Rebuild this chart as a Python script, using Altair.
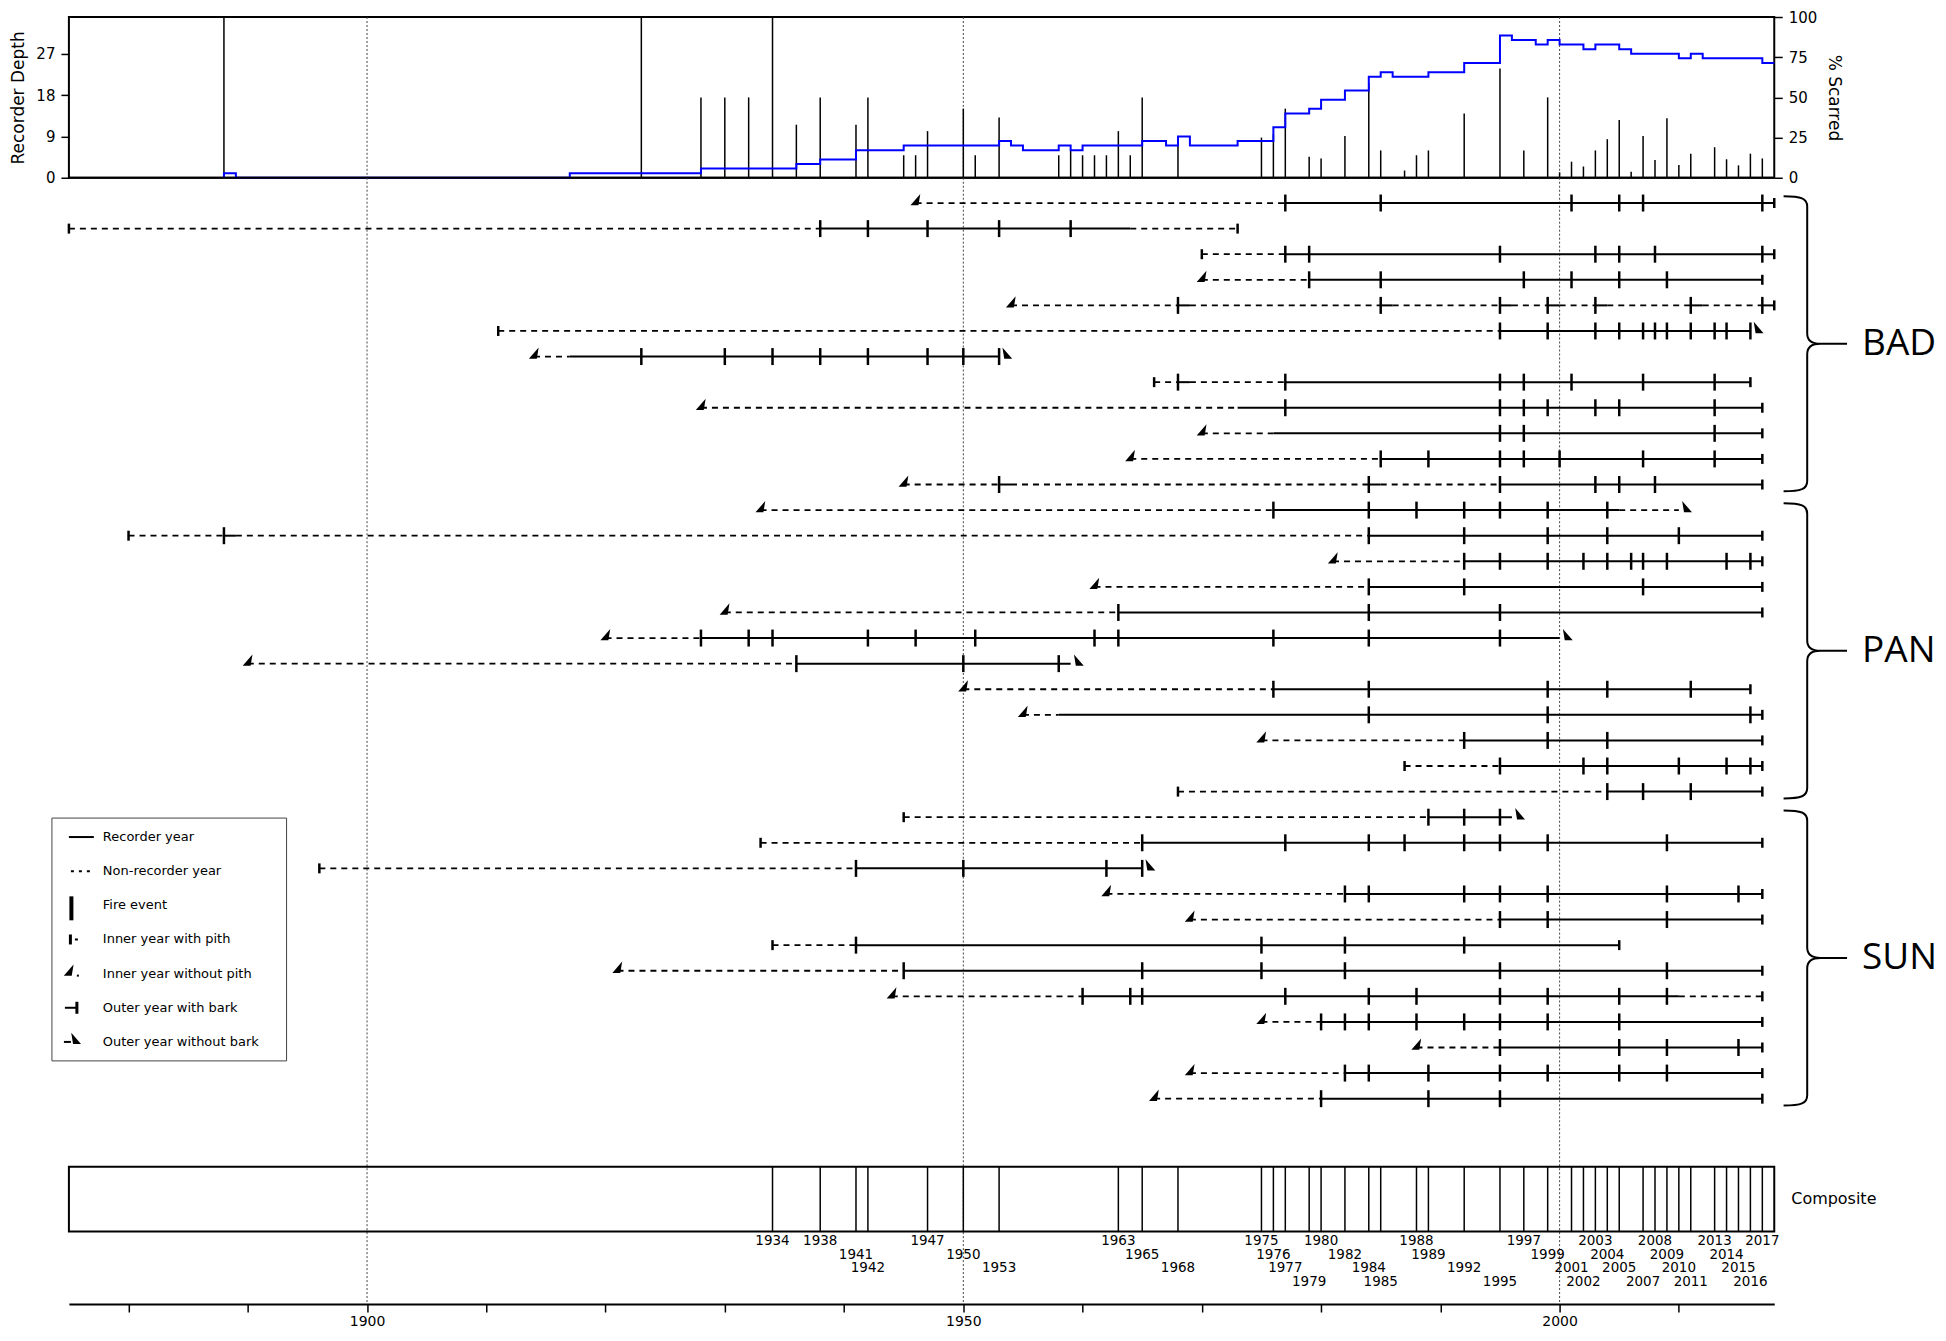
import altair as alt
import pandas as pd

# ---------------- data ----------------
YEAR_MIN, YEAR_MAX = 1875, 2018
grid_years = [1900, 1950, 2000]
axis_tick_years = list(range(1880, 2011, 10))

# recorder depth (step line, left axis)
depth_years = [1888, 1888, 1889, 1917, 1928, 1936, 1938, 1941, 1945, 1953, 1954, 1955, 1958, 1959, 1960,
               1965, 1967, 1968, 1969, 1973, 1976, 1977, 1979, 1980, 1982, 1984, 1985, 1986, 1989, 1992,
               1995, 1996, 1998, 1999, 2000, 2002, 2003, 2005, 2006, 2010, 2011, 2012, 2017, 2018]
depth_values = [0, 1, 0, 1, 2, 3, 4, 6, 7, 8, 7, 6, 7, 6, 7,
                8, 7, 9, 7, 8, 11, 14, 15, 17, 19, 22, 23, 22, 23, 25,
                31, 30, 29, 30, 29, 28, 29, 28, 27, 26, 27, 26, 25, 25]

# percent scarred (bars, right axis)
scar_years = [1888, 1923, 1928, 1930, 1932, 1934, 1936, 1938, 1941, 1942, 1945, 1946, 1947, 1950, 1951,
              1953, 1958, 1959, 1960, 1961, 1962, 1963, 1964, 1965, 1968, 1975, 1976, 1977, 1979, 1980,
              1982, 1984, 1985, 1987, 1988, 1989, 1992, 1995, 1997, 1999, 2000, 2001, 2002, 2003, 2004,
              2005, 2006, 2007, 2008, 2009, 2010, 2011, 2013, 2014, 2015, 2016, 2017]
scar_pct = [100, 100, 50, 50, 50, 100, 33, 50, 33, 50, 14, 14, 29, 43, 14,
            37.5, 14, 17, 14, 14, 14, 29, 14, 50, 22, 25, 27, 43, 13, 12,
            26, 59, 17, 4.5, 14, 17, 40, 68, 17, 50, 3.4, 10, 7, 17, 24,
            36, 3.7, 26, 11, 37, 8, 15, 19, 11.5, 7.7, 15, 12]

composite_years = [1934, 1938, 1941, 1942, 1947, 1950, 1953, 1963, 1965, 1968, 1975, 1976, 1977, 1979,
                   1980, 1982, 1984, 1985, 1988, 1989, 1992, 1995, 1997, 1999, 2001, 2002, 2003, 2004,
                   2005, 2007, 2008, 2009, 2010, 2011, 2013, 2014, 2015, 2016, 2017]

sites = ["BAD", "PAN", "SUN"]
site_first_row = [0, 12, 24]
site_last_row = [11, 23, 35]

inner_year = [1946, 1875, 1970, 1970, 1954, 1911, 1914, 1966, 1928, 1970, 1964, 1945,
              1933, 1880, 1981, 1961, 1930, 1920, 1890, 1950, 1955, 1975, 1987, 1968,
              1945, 1933, 1896, 1962, 1969, 1934, 1921, 1944, 1975, 1988, 1969, 1966]
inner_pith = [False, True, True, False, False, True, False, True, False, False, False, False,
              False, True, False, False, False, False, False, False, False, False, True, True,
              True, True, True, False, False, True, False, False, False, False, False, False]
outer_year = [2018, 1973, 2018, 2017, 2018, 2016, 1953, 2016, 2017, 2017, 2017, 2017,
              2010, 2017, 2017, 2017, 2017, 2000, 1959, 2016, 2017, 2017, 2017, 2017,
              1996, 2017, 1965, 2017, 2017, 2005, 2017, 2017, 2017, 2017, 2017, 2017]
outer_bark = [True, True, True, True, True, False, False, True, True, True, True, True,
              False, True, True, True, True, False, False, True, True, True, True, True,
              False, True, False, True, True, True, True, True, True, True, True, True]

# recorder-year spans (tree index, from, to)
rec_tree = [0, 1, 2, 3, 4, 4, 4, 4, 4, 4, 4, 5, 6, 7, 7, 8, 9, 10, 11, 11, 11,
            12, 13, 13, 14, 15, 16, 17, 18, 19, 20, 21, 22, 23,
            24, 25, 26, 27, 28, 29, 30, 31, 32, 33, 34, 35]
rec_from = [1977, 1938, 1977, 1979, 1968, 1985, 1995, 1999, 2003, 2011, 2017, 1995, 1917, 1968, 1977,
            1973, 1976, 1985, 1953, 1984, 1995,
            1976, 1888, 1984, 1992, 1984, 1963, 1928, 1936, 1976, 1958, 1992, 1995, 2004,
            1989, 1965, 1941, 1982, 1995, 1941, 1945, 1960, 1980, 1995, 1982, 1980]
rec_to = [2018, 1964, 2018, 2017, 1969, 1986, 1996, 2000, 2004, 2012, 2018, 2016, 1953, 1969, 2016,
          2017, 2017, 2017, 1954, 1985, 2017,
          2005, 1889, 2017, 2017, 2017, 2017, 2000, 1959, 2016, 2017, 2017, 2017, 2017,
          1996, 2017, 1965, 2017, 2017, 2005, 2017, 2010, 2017, 2017, 2017, 2017]

fires_BAD = [
    [1977, 1985, 2001, 2005, 2007, 2017],
    [1938, 1942, 1947, 1953, 1959],
    [1977, 1979, 1995, 2003, 2005, 2008, 2017],
    [1979, 1985, 1997, 2001, 2005, 2009],
    [1968, 1985, 1995, 1999, 2003, 2011, 2017],
    [1995, 1999, 2003, 2005, 2007, 2008, 2009, 2011, 2013, 2014, 2016],
    [1923, 1930, 1934, 1938, 1942, 1947, 1950, 1953],
    [1968, 1977, 1995, 1997, 2001, 2007, 2013],
    [1977, 1995, 1997, 1999, 2003, 2005, 2013],
    [1995, 1997, 2013],
    [1985, 1989, 1995, 1997, 2000, 2007, 2013],
    [1953, 1984, 1995, 2003, 2005, 2008],
]
fires_PAN = [
    [1976, 1984, 1988, 1992, 1995, 1999, 2004],
    [1888, 1984, 1992, 1999, 2004, 2010],
    [1992, 1995, 1999, 2002, 2004, 2006, 2007, 2009, 2014, 2016],
    [1984, 1992, 2007],
    [1963, 1984, 1995],
    [1928, 1932, 1934, 1942, 1946, 1951, 1961, 1963, 1976, 1984, 1995],
    [1936, 1950, 1958],
    [1976, 1984, 1999, 2004, 2011],
    [1984, 1999, 2016],
    [1992, 1999, 2004],
    [1995, 2002, 2004, 2010, 2014, 2016],
    [2004, 2007, 2011],
]
fires_SUN = [
    [1989, 1992, 1995],
    [1965, 1977, 1984, 1987, 1992, 1995, 1999, 2009],
    [1941, 1950, 1962, 1965],
    [1982, 1984, 1992, 1995, 1999, 2009, 2015],
    [1995, 1999, 2009],
    [1941, 1975, 1982, 1992],
    [1945, 1965, 1975, 1982, 1995, 2009],
    [1960, 1964, 1965, 1977, 1984, 1988, 1995, 1999, 2005, 2009],
    [1980, 1982, 1984, 1988, 1992, 1995, 1999, 2005],
    [1995, 2005, 2009, 2015],
    [1982, 1984, 1989, 1995, 1999, 2005, 2009],
    [1980, 1989, 1995],
]

legend_labels = ["Recorder year", "Non-recorder year", "Fire event", "Inner year with pith",
                 "Inner year without pith", "Outer year with bark", "Outer year without bark"]

# ---------------- layout ----------------
W = 1708
H_TOP = 161
H_MAIN = 1128
ROW_PX = 25.63
ROW0_PX = 25.3
y_lo = -ROW0_PX / ROW_PX
y_hi = y_lo + H_MAIN / ROW_PX
COMP_TOP, COMP_BOT = 990.6, 1055.3
COMP_LABEL_Y0, COMP_LABEL_DY = 1065.0, 13.5
LEG_Y0, LEG_DY = 660.3, 34.2

WEDGE_IN = "M 0.6 -1 L -1 0.85 L 0.3 0.85 Z"
WEDGE_OUT = "M -0.6 -1 L 1 0.85 L -0.3 0.85 Z"
BRACE = ("M -0.16 -1 C -0.04 -1 0 -0.985 0 -0.93 L 0 -0.07 C 0 -0.02 0.03 0 0.09 0 L 0.27 0 "
         "M 0.09 0 C 0.03 0 0 0.02 0 0.07 L 0 0.93 C 0 0.985 -0.04 1 -0.16 1")

# ---------------- tables ----------------
depth_df = pd.DataFrame({"year": depth_years, "depth": depth_values, "i": list(range(len(depth_years)))})
scar_df = pd.DataFrame({"year": scar_years, "pct": scar_pct})
grid_df = pd.DataFrame({"year": grid_years})
one = pd.DataFrame({"k": [0]})

span_rows = []
for t in range(len(inner_year)):
    spans = sorted((f, e) for tr, f, e in zip(rec_tree, rec_from, rec_to) if tr == t)
    cur = inner_year[t]
    for f, e in spans:
        if f > cur:
            span_rows.append({"tree": t, "x1": cur, "x2": f, "kind": "non"})
        span_rows.append({"tree": t, "x1": f, "x2": e, "kind": "rec"})
        cur = max(cur, e)
    if outer_year[t] > cur:
        span_rows.append({"tree": t, "x1": cur, "x2": outer_year[t], "kind": "non"})
span_df = pd.DataFrame(span_rows)
non_df = span_df[span_df.kind == "non"]
rec_df = span_df[span_df.kind == "rec"]

fire_rows = []
for off, site_fires in zip(site_first_row, [fires_BAD, fires_PAN, fires_SUN]):
    for i, yrs in enumerate(site_fires):
        for y in yrs:
            fire_rows.append({"tree": off + i, "year": y})
fire_df = pd.DataFrame(fire_rows)

ends_df = pd.DataFrame({"tree": list(range(len(inner_year))), "inner": inner_year, "pith": inner_pith,
                        "outer": outer_year, "bark": outer_bark})
pith_df = ends_df[ends_df.pith]
nopith_df = ends_df[~ends_df.pith]
bark_df = ends_df[ends_df.bark]
nobark_df = ends_df[~ends_df.bark]

levels = []
prev, lvl = None, 0
for y in composite_years:
    lvl = 0 if (prev is None or y - prev >= 4) else (lvl + 1) % 4
    levels.append(lvl)
    prev = y
comp_df = pd.DataFrame({"year": composite_years, "label": [str(y) for y in composite_years],
                        "ly": [COMP_LABEL_Y0 + COMP_LABEL_DY * l for l in levels]})

site_df = pd.DataFrame({
    "site": sites,
    "mid": [(a + b) / 2 for a, b in zip(site_first_row, site_last_row)],
    "bsize": [(2 * ((b - a + 1) / 2 * ROW_PX - 6)) ** 2 for a, b in zip(site_first_row, site_last_row)],
})
legend_df = pd.DataFrame({"label": legend_labels, "ly": [LEG_Y0 + LEG_DY * k for k in range(len(legend_labels))]})
LY = [LEG_Y0 + LEG_DY * k for k in range(len(legend_labels))]

# ---------------- scales / axes ----------------
xscale = alt.Scale(domain=[YEAR_MIN, YEAR_MAX], nice=False, zero=False)
yscale = alt.Scale(domain=[y_lo, y_hi], nice=False, zero=False, reverse=True)
ytree = alt.Y("tree:Q", scale=yscale, axis=None)

left_axis = alt.Axis(orient="left", values=[0, 9, 18, 27], title="Recorder Depth", tickSize=8, tickWidth=1.5,
                     labelFontSize=15, titleFontSize=17, labelPadding=6, titlePadding=8, grid=False,
                     domain=False, titleFontWeight="normal")
right_axis = alt.Axis(orient="right", values=[0, 25, 50, 75, 100], title="% Scarred", tickSize=8,
                      tickWidth=1.5, labelFontSize=15, titleFontSize=17, labelPadding=6, titlePadding=8,
                      grid=False, domain=False, titleFontWeight="normal")
main_xaxis = alt.Axis(orient="bottom", values=axis_tick_years, format="d",
                      labelExpr="datum.value % 50 == 0 ? datum.label : ''",
                      tickSize=8, tickWidth=1.5, domain=True, domainWidth=2, labelFontSize=14, labelPadding=3,
                      grid=False, title=None)


def mx(field):
    return alt.X(field, type="quantitative", scale=xscale, axis=main_xaxis)


# ---------------- top panel ----------------
top_grid = alt.Chart(grid_df).mark_rule(color="#444444", strokeWidth=1, strokeDash=[2, 2]).encode(
    x=alt.X("year:Q", scale=xscale, axis=None))
bars = alt.Chart(scar_df).mark_rule(color="black", strokeWidth=1.5).encode(
    x=alt.X("year:Q", scale=xscale, axis=None),
    y=alt.Y("pct:Q", scale=alt.Scale(domain=[0, 100], nice=False), axis=right_axis),
    y2=alt.datum(0))
depth_line = alt.Chart(depth_df).mark_line(interpolate="step-after", color="#0000ff", strokeWidth=2).encode(
    x=alt.X("year:Q", scale=xscale, axis=None),
    y=alt.Y("depth:Q", scale=alt.Scale(domain=[0, 35], nice=False), axis=left_axis),
    order="i:Q")
baseline = alt.Chart(one).mark_rule(color="black", strokeWidth=2).encode(
    x=alt.value(0), x2=alt.value(W), y=alt.value(H_TOP))
top = alt.layer(top_grid, bars, depth_line, baseline).resolve_scale(y="independent").properties(
    width=W, height=H_TOP, view=alt.ViewBackground(stroke="black", strokeWidth=2))

# ---------------- main panel ----------------
main_grid = alt.Chart(grid_df).mark_rule(color="#444444", strokeWidth=1, strokeDash=[2, 2]).encode(
    x=mx("year"))
nonrec = alt.Chart(non_df).mark_rule(color="black", strokeWidth=1.8, strokeDash=[6, 5]).encode(
    x=mx("x1"), x2="x2:Q", y=ytree)
rec = alt.Chart(rec_df).mark_rule(color="black", strokeWidth=2).encode(
    x=mx("x1"), x2="x2:Q", y=ytree)
fires = alt.Chart(fire_df).mark_tick(orient="vertical", size=17, thickness=2.5, color="black", opacity=1).encode(
    x=mx("year"), y=ytree)
pith = alt.Chart(pith_df).mark_tick(orient="vertical", size=10, thickness=2.5, color="black", opacity=1).encode(
    x=mx("inner"), y=ytree)
bark = alt.Chart(bark_df).mark_tick(orient="vertical", size=10, thickness=2.5, color="black", opacity=1).encode(
    x=mx("outer"), y=ytree)
nopith = alt.Chart(nopith_df).mark_point(shape=WEDGE_IN, filled=True, size=150, color="black", opacity=1,
                                         strokeWidth=0, xOffset=1, yOffset=-3).encode(
    x=mx("inner"), y=ytree)
nobark = alt.Chart(nobark_df).mark_point(shape=WEDGE_OUT, filled=True, size=150, color="black", opacity=1,
                                         strokeWidth=0, xOffset=7, yOffset=-3).encode(
    x=mx("outer"), y=ytree)

comp_box = alt.Chart(one).mark_rect(fillOpacity=0, stroke="black", strokeWidth=2).encode(
    x=alt.value(0), x2=alt.value(W), y=alt.value(COMP_TOP), y2=alt.value(COMP_BOT))
comp_lines = alt.Chart(comp_df).mark_rule(color="black", strokeWidth=1.5).encode(
    x=mx("year"), y=alt.value(COMP_TOP), y2=alt.value(COMP_BOT))
comp_labels = alt.Chart(comp_df).mark_text(fontSize=13.5, align="center", baseline="middle", color="black").encode(
    x=mx("year"), y=alt.Y("ly:Q", scale=None), text="label:N")
comp_title = alt.Chart(one).mark_text(fontSize=16, align="left", baseline="middle", color="black",
                                      text="Composite").encode(
    x=alt.value(W + 17), y=alt.value((COMP_TOP + COMP_BOT) / 2))

braces = alt.Chart(site_df).mark_point(shape=BRACE, filled=False, strokeWidth=2, color="black", opacity=1).encode(
    x=alt.value(W + 33), y=alt.Y("mid:Q", scale=yscale, axis=None), size=alt.Size("bsize:Q", scale=None, legend=None))
site_text = alt.Chart(site_df).mark_text(font="Open Sans", fontSize=37, align="left", baseline="middle",
                                         color="black").encode(
    x=alt.value(W + 88), y=alt.Y("mid:Q", scale=yscale, axis=None), text="site:N")

# legend (drawn inside plot area, bottom-left)
leg_box = alt.Chart(one).mark_rect(fillOpacity=0, stroke="#444444", strokeWidth=1).encode(
    x=alt.value(-17), x2=alt.value(218), y=alt.value(LY[0] - 19), y2=alt.value(LY[-1] + 19))
leg_text = alt.Chart(legend_df).mark_text(fontSize=13, align="left", baseline="middle", color="black").encode(
    x=alt.value(34), y=alt.Y("ly:Q", scale=None), text="label:N")
leg_rec = alt.Chart(one).mark_rule(color="black", strokeWidth=2).encode(
    x=alt.value(0), x2=alt.value(25), y=alt.value(LY[0]))
leg_non = alt.Chart(one).mark_rule(color="black", strokeWidth=2, strokeDash=[3, 5]).encode(
    x=alt.value(2), x2=alt.value(25), y=alt.value(LY[1]))
leg_fire = alt.Chart(one).mark_rule(color="black", strokeWidth=4).encode(
    x=alt.value(2.5), y=alt.value(LY[2] - 9), y2=alt.value(LY[2] + 15))
leg_pith = alt.Chart(one).mark_rule(color="black", strokeWidth=3).encode(
    x=alt.value(1.5), y=alt.value(LY[3] - 5), y2=alt.value(LY[3] + 5))
leg_pith_dash = alt.Chart(one).mark_rule(color="black", strokeWidth=2).encode(
    x=alt.value(6), x2=alt.value(9), y=alt.value(LY[3]))
leg_nopith = alt.Chart(one).mark_point(shape=WEDGE_IN, filled=True, size=150, color="black", opacity=1,
                                       strokeWidth=0).encode(x=alt.value(1), y=alt.value(LY[4] - 3))
leg_nopith_dot = alt.Chart(one).mark_rule(color="black", strokeWidth=2).encode(
    x=alt.value(8), x2=alt.value(10), y=alt.value(LY[4] + 2))
leg_bark_line = alt.Chart(one).mark_rule(color="black", strokeWidth=2).encode(
    x=alt.value(-4), x2=alt.value(8), y=alt.value(LY[5]))
leg_bark_tick = alt.Chart(one).mark_rule(color="black", strokeWidth=3).encode(
    x=alt.value(8), y=alt.value(LY[5] - 6), y2=alt.value(LY[5] + 6))
leg_nobark_line = alt.Chart(one).mark_rule(color="black", strokeWidth=2).encode(
    x=alt.value(-5), x2=alt.value(2), y=alt.value(LY[6]))
leg_nobark = alt.Chart(one).mark_point(shape=WEDGE_OUT, filled=True, size=150, color="black", opacity=1,
                                       strokeWidth=0).encode(x=alt.value(6), y=alt.value(LY[6] - 3))

main = alt.layer(
    main_grid, nonrec, rec, fires, pith, bark, nopith, nobark,
    comp_box, comp_lines, comp_labels, comp_title, braces, site_text,
    leg_box, leg_text, leg_rec, leg_non, leg_fire, leg_pith, leg_pith_dash, leg_nopith, leg_nopith_dot,
    leg_bark_line, leg_bark_tick, leg_nobark_line, leg_nobark,
).properties(width=W, height=H_MAIN)

chart = alt.vconcat(top, main, spacing=0, bounds="flush").properties(
    padding={"left": 0, "top": 0, "right": 0, "bottom": 0}
).configure(font="DejaVu Sans").configure_view(strokeWidth=0).configure_axis(
    labelColor="black", titleColor="black", tickColor="black", domainColor="black",
    labelFont="DejaVu Sans", titleFont="DejaVu Sans")

chart.save("out.html", embed_options={"renderer": "svg", "actions": False})
